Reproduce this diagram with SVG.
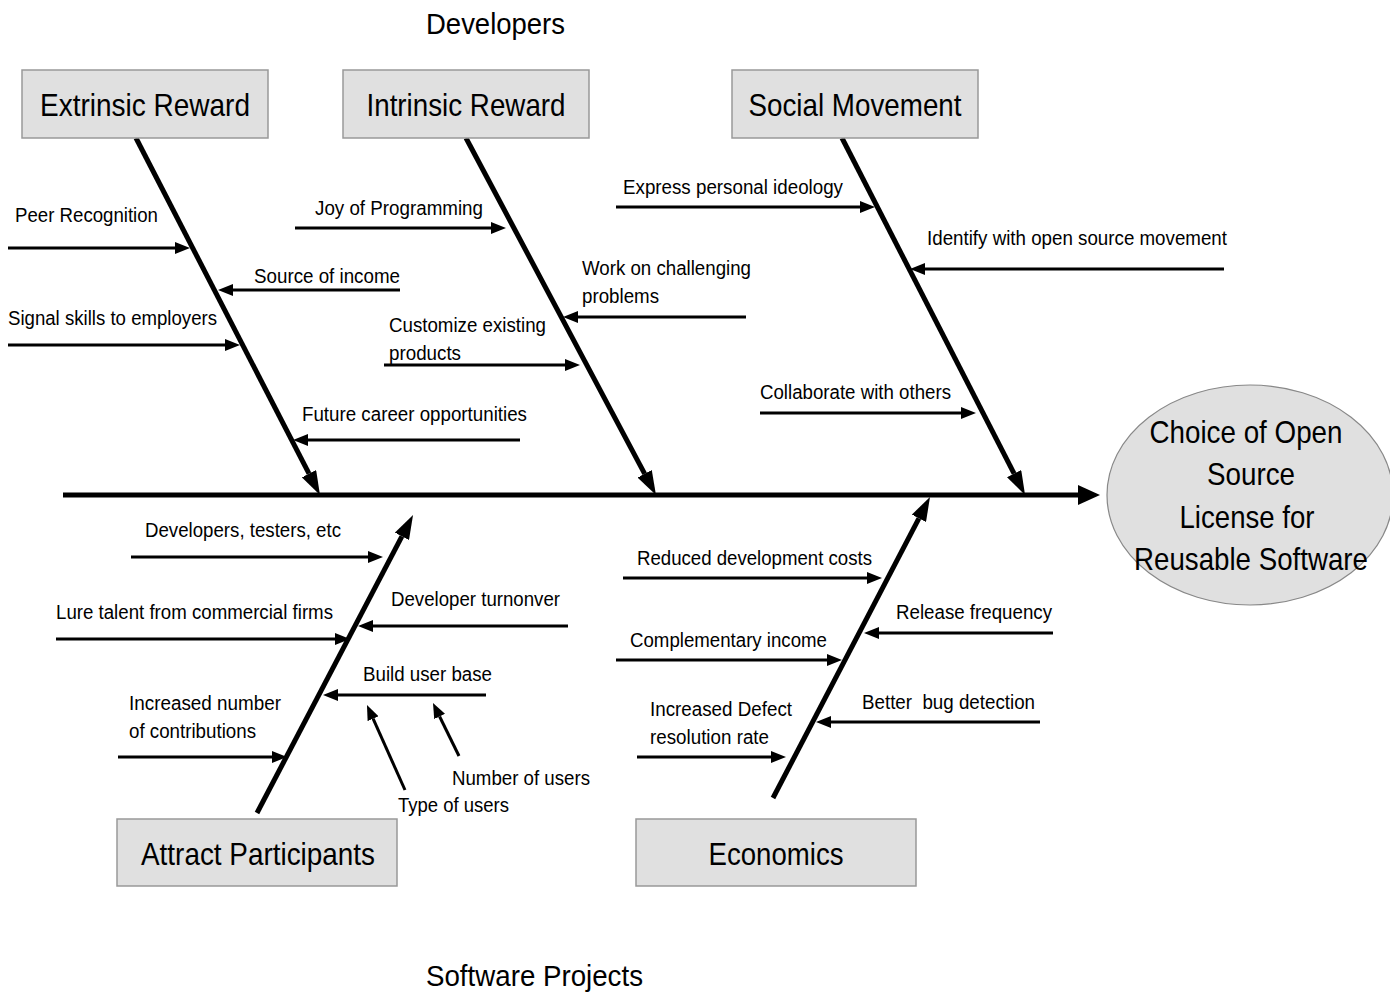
<svg xmlns="http://www.w3.org/2000/svg" width="1390" height="995" viewBox="0 0 1390 995">
<style>
text{font-family:"Liberation Sans",Arial,sans-serif;fill:#000}
.lbl{font-size:20px}
.box{fill:#e0e0e0;stroke:#999;stroke-width:1.5}
.bt{font-size:32px;text-anchor:middle}
.title{font-size:30px}
.bone{stroke:#000;stroke-width:5;fill:none}
.sub{stroke:#000;stroke-width:3;fill:none}
</style>
<defs>
<marker id="big" markerUnits="userSpaceOnUse" markerWidth="24" markerHeight="16" refX="0" refY="8" orient="auto"><path d="M0,0 L24,8 L0,16 z" fill="#000"/></marker>
<marker id="sm" markerUnits="userSpaceOnUse" markerWidth="15" markerHeight="12" refX="0" refY="6" orient="auto"><path d="M0,0 L15,6 L0,12 z" fill="#000"/></marker>
<marker id="spine" markerUnits="userSpaceOnUse" markerWidth="22" markerHeight="20" refX="0" refY="10" orient="auto"><path d="M0,0 L22,10 L0,20 z" fill="#000"/></marker>
</defs>

<text class="title" x="426" y="34" textLength="139" lengthAdjust="spacingAndGlyphs">Developers</text>
<text class="title" x="426" y="986" textLength="217" lengthAdjust="spacingAndGlyphs">Software Projects</text>

<g id="connectors">
<line class="bone" x1="63" y1="495" x2="1078" y2="495" marker-end="url(#spine)"/>
<line class="bone" x1="136" y1="138" x2="309" y2="473.7" marker-end="url(#big)"/>
<line class="bone" x1="466" y1="138" x2="644.7" y2="473.8" marker-end="url(#big)"/>
<line class="bone" x1="842" y1="138" x2="1014.1" y2="473.6" marker-end="url(#big)"/>
<line class="bone" x1="257" y1="813" x2="401.9" y2="536.3" marker-end="url(#big)"/>
<line class="bone" x1="773" y1="798" x2="918.9" y2="518.3" marker-end="url(#big)"/>

<line class="sub" x1="8" y1="248" x2="175" y2="248" marker-end="url(#sm)"/>
<line class="sub" x1="400" y1="290" x2="233" y2="290" marker-end="url(#sm)"/>
<line class="sub" x1="8" y1="345" x2="225" y2="345" marker-end="url(#sm)"/>
<line class="sub" x1="520" y1="440" x2="308" y2="440" marker-end="url(#sm)"/>
<line class="sub" x1="295" y1="228" x2="491" y2="228" marker-end="url(#sm)"/>
<line class="sub" x1="746" y1="317" x2="578" y2="317" marker-end="url(#sm)"/>
<line class="sub" x1="384" y1="365" x2="565" y2="365" marker-end="url(#sm)"/>
<line class="sub" x1="616" y1="207" x2="860" y2="207" marker-end="url(#sm)"/>
<line class="sub" x1="1224" y1="269" x2="925" y2="269" marker-end="url(#sm)"/>
<line class="sub" x1="760" y1="413" x2="961" y2="413" marker-end="url(#sm)"/>

<line class="sub" x1="131" y1="557" x2="368" y2="557" marker-end="url(#sm)"/>
<line class="sub" x1="56" y1="639" x2="335" y2="639" marker-end="url(#sm)"/>
<line class="sub" x1="568" y1="626" x2="373" y2="626" marker-end="url(#sm)"/>
<line class="sub" x1="486" y1="695" x2="338" y2="695" marker-end="url(#sm)"/>
<line class="sub" x1="118" y1="757" x2="272" y2="757" marker-end="url(#sm)"/>
<line class="sub" x1="405" y1="790" x2="373.1" y2="718.7" marker-end="url(#sm)"/>
<line class="sub" x1="459" y1="756" x2="439.6" y2="716.5" marker-end="url(#sm)"/>

<line class="sub" x1="623" y1="578" x2="867" y2="578" marker-end="url(#sm)"/>
<line class="sub" x1="616" y1="660" x2="827" y2="660" marker-end="url(#sm)"/>
<line class="sub" x1="637" y1="757" x2="771" y2="757" marker-end="url(#sm)"/>
<line class="sub" x1="1053" y1="633" x2="879" y2="633" marker-end="url(#sm)"/>
<line class="sub" x1="1040" y1="722" x2="831" y2="722" marker-end="url(#sm)"/>
</g>

<g id="extrinsic">
<rect class="box" x="22" y="70" width="246" height="68"/>
<text class="bt" x="145" y="116" textLength="210" lengthAdjust="spacingAndGlyphs">Extrinsic Reward</text>
</g>
<g id="intrinsic">
<rect class="box" x="343" y="70" width="246" height="68"/>
<text class="bt" x="466" y="116" textLength="199" lengthAdjust="spacingAndGlyphs">Intrinsic Reward</text>
</g>
<g id="social">
<rect class="box" x="732" y="70" width="246" height="68"/>
<text class="bt" x="855" y="116" textLength="213" lengthAdjust="spacingAndGlyphs">Social Movement</text>
</g>
<g id="attract">
<rect class="box" x="117" y="819" width="280" height="67"/>
<text class="bt" x="258" y="865" textLength="234" lengthAdjust="spacingAndGlyphs">Attract Participants</text>
</g>
<g id="economics">
<rect class="box" x="636" y="819" width="280" height="67"/>
<text class="bt" x="776" y="865" textLength="135" lengthAdjust="spacingAndGlyphs">Economics</text>
</g>
<g id="effect">
<ellipse cx="1250" cy="495" rx="143" ry="110" fill="#e0e0e0" stroke="#888" stroke-width="1.2"/>
<text class="bt" x="1246" y="443" textLength="193" lengthAdjust="spacingAndGlyphs">Choice of Open</text>
<text class="bt" x="1251" y="485" textLength="88" lengthAdjust="spacingAndGlyphs">Source</text>
<text class="bt" x="1247" y="528" textLength="135" lengthAdjust="spacingAndGlyphs">License for</text>
<text class="bt" x="1251" y="570" textLength="234" lengthAdjust="spacingAndGlyphs">Reusable Software</text>
</g>

<g id="labels">
<text class="lbl" x="15" y="222" textLength="143" lengthAdjust="spacingAndGlyphs">Peer Recognition</text>
<text class="lbl" x="254" y="283" textLength="146" lengthAdjust="spacingAndGlyphs">Source of income</text>
<text class="lbl" x="8" y="325" textLength="209" lengthAdjust="spacingAndGlyphs">Signal skills to employers</text>
<text class="lbl" x="302" y="421" textLength="225" lengthAdjust="spacingAndGlyphs">Future career opportunities</text>
<text class="lbl" x="315" y="215" textLength="168" lengthAdjust="spacingAndGlyphs">Joy of Programming</text>
<text class="lbl" x="582" y="275" textLength="169" lengthAdjust="spacingAndGlyphs">Work on challenging</text>
<text class="lbl" x="582" y="303" textLength="77" lengthAdjust="spacingAndGlyphs">problems</text>
<text class="lbl" x="389" y="332" textLength="157" lengthAdjust="spacingAndGlyphs">Customize existing</text>
<text class="lbl" x="389" y="360" textLength="72" lengthAdjust="spacingAndGlyphs">products</text>
<text class="lbl" x="623" y="194" textLength="220" lengthAdjust="spacingAndGlyphs">Express personal ideology</text>
<text class="lbl" x="927" y="245" textLength="300" lengthAdjust="spacingAndGlyphs">Identify with open source movement</text>
<text class="lbl" x="760" y="399" textLength="191" lengthAdjust="spacingAndGlyphs">Collaborate with others</text>
<text class="lbl" x="145" y="537" textLength="196" lengthAdjust="spacingAndGlyphs">Developers, testers, etc</text>
<text class="lbl" x="56" y="619" textLength="277" lengthAdjust="spacingAndGlyphs">Lure talent from commercial firms</text>
<text class="lbl" x="391" y="606" textLength="169" lengthAdjust="spacingAndGlyphs">Developer turnonver</text>
<text class="lbl" x="363" y="681" textLength="129" lengthAdjust="spacingAndGlyphs">Build user base</text>
<text class="lbl" x="129" y="710" textLength="152" lengthAdjust="spacingAndGlyphs">Increased number</text>
<text class="lbl" x="129" y="738" textLength="127" lengthAdjust="spacingAndGlyphs">of contributions</text>
<text class="lbl" x="452" y="785" textLength="138" lengthAdjust="spacingAndGlyphs">Number of users</text>
<text class="lbl" x="398" y="812" textLength="111" lengthAdjust="spacingAndGlyphs">Type of users</text>
<text class="lbl" x="637" y="565" textLength="235" lengthAdjust="spacingAndGlyphs">Reduced development costs</text>
<text class="lbl" x="896" y="619" textLength="156" lengthAdjust="spacingAndGlyphs">Release frequency</text>
<text class="lbl" x="630" y="647" textLength="197" lengthAdjust="spacingAndGlyphs">Complementary income</text>
<text class="lbl" x="862" y="709" textLength="173" lengthAdjust="spacingAndGlyphs" xml:space="preserve">Better  bug detection</text>
<text class="lbl" x="650" y="716" textLength="142" lengthAdjust="spacingAndGlyphs">Increased Defect</text>
<text class="lbl" x="650" y="744" textLength="119" lengthAdjust="spacingAndGlyphs">resolution rate</text>
</g>
</svg>
